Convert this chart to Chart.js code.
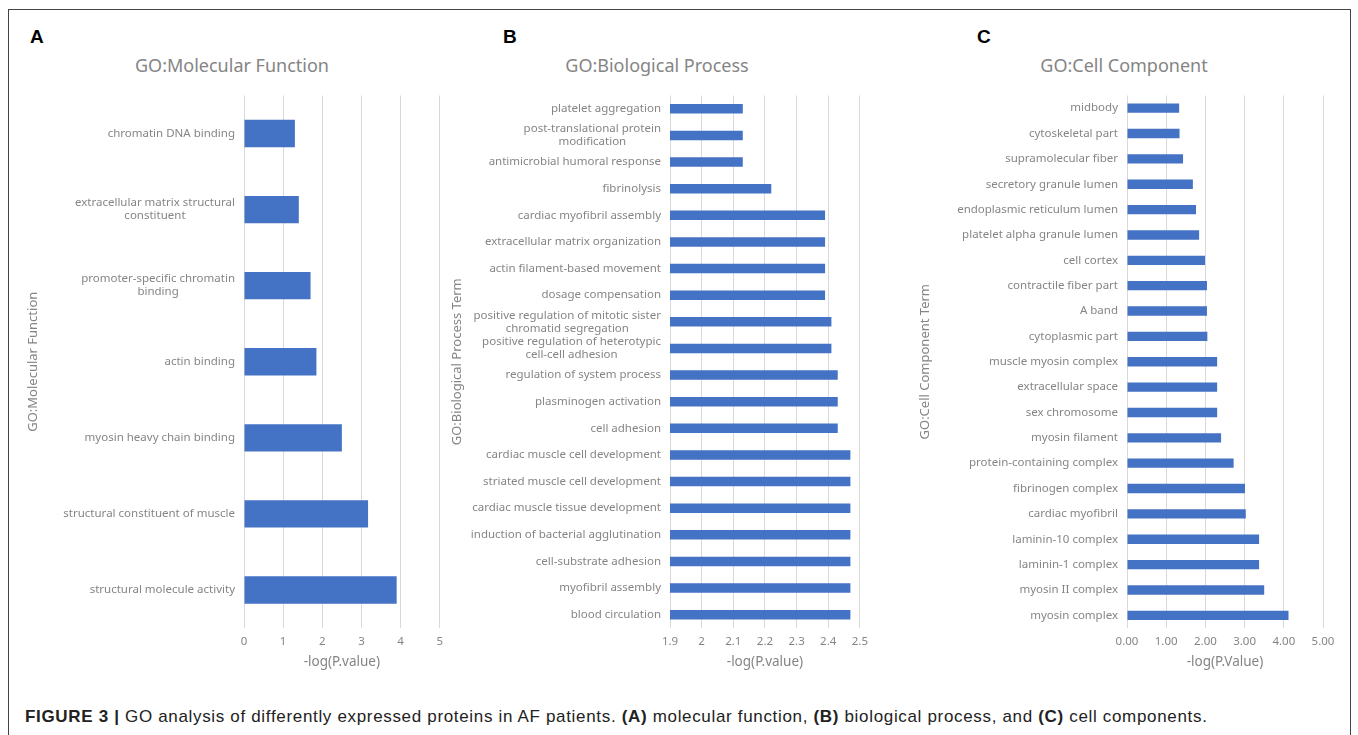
<!DOCTYPE html>
<html>
<head>
<meta charset="utf-8">
<script src="https://cdn.jsdelivr.net/npm/chart.js@4.4.1/dist/chart.umd.min.js"></script>
<style>
  body { margin: 0; background: #fff; width: 1358px; height: 735px; overflow: hidden; position: relative; }
  .frame { position: absolute; left: 8px; top: 9px; width: 1343px; height: 760px; border: 1.5px solid #444; box-sizing: border-box; }
  .panel { position: absolute; }
  .tag { position: absolute; font: bold 19px "Liberation Sans", Arial, sans-serif; color: #000; line-height: 19px; }
  .title { position: absolute; width: 400px; top: 54px; text-align: center; font: 18px "Noto Sans", "Open Sans", sans-serif; line-height: 22px; color: #858585; white-space: nowrap; }
  .caption { position: absolute; left: 25px; top: 707px; font: 17px "Liberation Sans", Arial, sans-serif; letter-spacing: 0.67px; color: #222; white-space: nowrap; }
</style>
</head>
<body>
<div class="frame"></div>
<div class="tag" style="left:30px;top:27px">A</div>
<div class="tag" style="left:503px;top:27px">B</div>
<div class="tag" style="left:977px;top:27px">C</div>
<div class="title" style="left:32px">GO:Molecular Function</div>
<div class="title" style="left:457px">GO:Biological Process</div>
<div class="title" style="left:924px">GO:Cell Component</div>

<div class="panel" style="left:14px;top:40px;width:436px;height:650px"><canvas id="chartA"></canvas></div>
<div class="panel" style="left:445px;top:40px;width:430px;height:650px"><canvas id="chartB"></canvas></div>
<div class="panel" style="left:905px;top:40px;width:438px;height:650px"><canvas id="chartC"></canvas></div>

<div class="caption"><b>FIGURE 3 |</b> GO analysis of differently expressed proteins in AF patients. <b>(A)</b> molecular function, <b>(B)</b> biological process, and <b>(C)</b> cell components.</div>

<script>
// panel A: molecular function
const mfTerms = [
  'chromatin DNA binding',
  ['extracellular matrix structural', 'constituent'],
  ['promoter-specific chromatin', 'binding'],
  'actin binding',
  'myosin heavy chain binding',
  'structural constituent of muscle',
  'structural molecule activity'
];
const mfValues = [1.30, 1.40, 1.70, 1.85, 2.50, 3.17, 3.90];
const mfTicks = ['0', '1', '2', '3', '4', '5'];

// panel B: biological process
const bpTerms = [
  'platelet aggregation',
  ['post-translational protein', 'modification'],
  'antimicrobial humoral response',
  'fibrinolysis',
  'cardiac myofibril assembly',
  'extracellular matrix organization',
  'actin filament-based movement',
  'dosage compensation',
  ['positive regulation of mitotic sister', 'chromatid segregation'],
  ['positive regulation of heterotypic', 'cell-cell adhesion'],
  'regulation of system process',
  'plasminogen activation',
  'cell adhesion',
  'cardiac muscle cell development',
  'striated muscle cell development',
  'cardiac muscle tissue development',
  'induction of bacterial agglutination',
  'cell-substrate adhesion',
  'myofibril assembly',
  'blood circulation'
];
const bpValues = [2.13, 2.13, 2.13, 2.22, 2.39, 2.39, 2.39, 2.39, 2.41, 2.41,
                  2.43, 2.43, 2.43, 2.47, 2.47, 2.47, 2.47, 2.47, 2.47, 2.47];
const bpTicks = ['1.9', '2', '2.1', '2.2', '2.3', '2.4', '2.5'];

// panel C: cell component
const ccTerms = [
  'midbody', 'cytoskeletal part', 'supramolecular fiber', 'secretory granule lumen',
  'endoplasmic reticulum lumen', 'platelet alpha granule lumen', 'cell cortex',
  'contractile fiber part', 'A band', 'cytoplasmic part', 'muscle myosin complex',
  'extracellular space', 'sex chromosome', 'myosin filament', 'protein-containing complex',
  'fibrinogen complex', 'cardiac myofibril', 'laminin-10 complex', 'laminin-1 complex',
  'myosin II complex', 'myosin complex'
];
const ccValues = [1.33, 1.34, 1.43, 1.68, 1.76, 1.84, 1.99, 2.04, 2.04, 2.05, 2.30,
                  2.30, 2.30, 2.40, 2.72, 3.01, 3.03, 3.37, 3.37, 3.50, 4.12];
const ccTicks = ['0.00', '1.00', '2.00', '3.00', '4.00', '5.00'];

const FONT = '"Noto Sans", "Open Sans", sans-serif';
const GREY = '#858585';
const BAR = '#4472C4';
const LABEL_SIZE = 11.5;

// y labels: block right aligned, lines centred inside the block (Excel style)
const termLabels = {
  id: 'termLabels',
  afterDraw(chart) {
    const ctx = chart.ctx;
    const y = chart.scales.y;
    ctx.save();
    ctx.font = LABEL_SIZE + 'px ' + FONT;
    ctx.fillStyle = GREY;
    ctx.textAlign = 'center';
    ctx.textBaseline = 'middle';
    chart.data.labels.forEach((lab, i) => {
      const lines = Array.isArray(lab) ? lab : [lab];
      const w = Math.max(...lines.map(l => ctx.measureText(l).width));
      const cx = chart.chartArea.left - 9 - w / 2;
      const cy = y.getPixelForValue(i);
      lines.forEach((l, j) => ctx.fillText(l, cx, cy + (j - (lines.length - 1) / 2) * 13));
    });
    ctx.restore();
  }
};

function makeChart(id, cfg) {
  return new Chart(document.getElementById(id), {
    type: 'bar',
    data: {
      labels: cfg.labels,
      datasets: [{ data: cfg.values, backgroundColor: BAR, borderWidth: 0,
                   barPercentage: cfg.barPct, categoryPercentage: 1 }]
    },
    plugins: [termLabels],
    options: {
      indexAxis: 'y',
      responsive: true,
      maintainAspectRatio: false,
      animation: false,
      layout: { padding: { left: 0, right: cfg.padRight, top: 55.5, bottom: 0 } },
      plugins: {
        legend: { display: false },
        tooltip: { enabled: false }
      },
      scales: {
        x: {
          min: cfg.min, max: cfg.max,
          ticks: { stepSize: cfg.step, color: GREY, padding: 7,
                   font: { family: FONT, size: LABEL_SIZE },
                   callback: (v, i) => cfg.ticks[i] },
          grid: { color: '#d9d9d9', drawTicks: false },
          border: { display: false },
          title: { display: true, text: cfg.xTitle, color: GREY,
                   font: { family: FONT, size: 13.5 }, padding: { top: 0, bottom: 19.5 } },
          afterFit(s) { s.height = 62; }
        },
        y: {
          ticks: { display: false },
          grid: { display: false },
          border: { display: false },
          title: { display: true, text: cfg.yTitle, color: GREY,
                   font: { family: FONT, size: 13 }, padding: { top: cfg.yPad, bottom: 0 } },
          afterFit(s) { s.width = cfg.left; }
        }
      }
    }
  });
}

makeChart('chartA', {
  labels: mfTerms, values: mfValues, ticks: mfTicks, min: 0, max: 5, step: 1,
  xTitle: '-log(P.value)', yTitle: 'GO:Molecular Function',
  left: 230, padRight: 10, barPct: 0.36, yPad: 11.2
});
makeChart('chartB', {
  labels: bpTerms, values: bpValues, ticks: bpTicks, min: 1.9, max: 2.5, step: 0.1,
  xTitle: '-log(P.value)', yTitle: 'GO:Biological Process Term',
  left: 225, padRight: 9, barPct: 0.36, yPad: 4.2
});
makeChart('chartC', {
  labels: ccTerms, values: ccValues, ticks: ccTicks, min: 0, max: 5, step: 1,
  xTitle: '-log(P.Value)', yTitle: 'GO:Cell Component Term',
  left: 222, padRight: 20, barPct: 0.37, yPad: 12.2
});
</script>
</body>
</html>
